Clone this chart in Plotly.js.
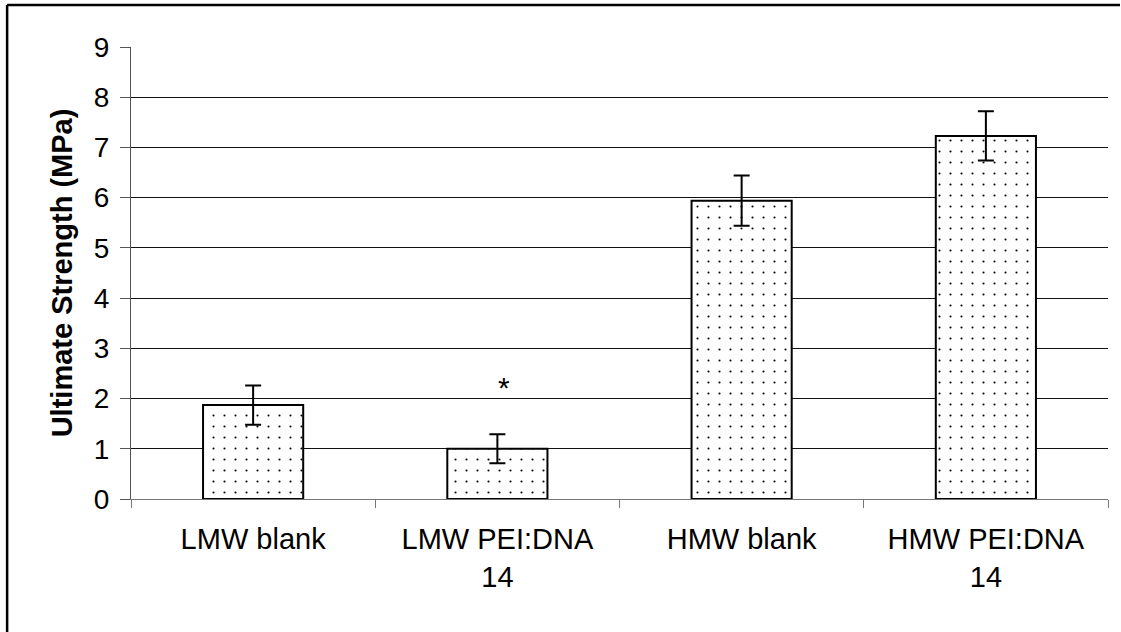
<!DOCTYPE html>
<html>
<head>
<meta charset="utf-8">
<script src="https://cdn.plot.ly/plotly-3.0.1.min.js"></script>
<style>
html,body{margin:0;padding:0;background:#fff;overflow:hidden;}
#chart{width:1121px;height:632px;overflow:hidden;}
</style>
</head>
<body>
<div id="chart"></div>
<script>
const categories = ["LMW blank", "LMW PEI:DNA<br>14", "HMW blank", "HMW PEI:DNA<br>14"];
const strength = [1.87, 1.0, 5.94, 7.23];
const errors = [0.39, 0.29, 0.50, 0.49];
const yTicks = [0, 1, 2, 3, 4, 5, 6, 7, 8, 9];
const markCategory = "LMW PEI:DNA<br>14";
const markY = 2.23;

const trace = {
  type: 'bar',
  x: categories,
  y: strength,
  marker: {
    color: '#fff',
    line: {color: '#000', width: 2},
    pattern: {shape: '.', size: 11, solidity: 0.03, fgcolor: '#000', bgcolor: '#fff', fillmode: 'replace'}
  },
  error_y: {type: 'data', array: errors, visible: true, color: '#000', thickness: 2, width: 8},
  hoverinfo: 'none'
};

const frameTop = 1 + 42/452;
const frameLeft = -124/978;
const frameRight = 990/978;
const frameBottom = -133/452;

const layout = {
  width: 1121, height: 632,
  margin: {l: 131, r: 13, t: 47, b: 133},
  paper_bgcolor: '#fff', plot_bgcolor: '#fff',
  font: {family: 'Liberation Sans, Arial, sans-serif', color: '#000', size: 28},
  showlegend: false,
  bargap: 0.59,
  xaxis: {
    type: 'category',
    tickson: 'boundaries',
    ticks: 'outside', ticklen: 8, tickcolor: '#777', tickwidth: 1,
    ticklabelstandoff: 14,
    showline: true, linecolor: '#777', linewidth: 1,
    showgrid: false,
    tickfont: {size: 29}
  },
  yaxis: {
    range: [0, 9],
    tickvals: yTicks,
    ticks: 'outside', ticklen: 10, tickcolor: '#555', tickwidth: 1,
    ticklabelstandoff: 5,
    showline: true, linecolor: '#555', linewidth: 1,
    showgrid: true, gridcolor: '#111', gridwidth: 1,
    zeroline: false,
    tickfont: {size: 28},
    title: {text: '<b>Ultimate Strength (MPa)</b>', font: {size: 29}, standoff: 12}
  },
  annotations: [{
    x: markCategory, y: markY, xref: 'x', yref: 'y', xshift: 7,
    text: '*', showarrow: false, font: {size: 30, color: '#000'}
  }],
  shapes: [
    {type: 'line', xref: 'paper', yref: 'paper', x0: frameLeft, x1: frameRight, y0: frameTop, y1: frameTop,
     line: {color: '#000', width: 2.5}, layer: 'below'},
    {type: 'line', xref: 'paper', yref: 'paper', x0: frameLeft, x1: frameLeft, y0: frameBottom, y1: frameTop,
     line: {color: '#000', width: 2.5}, layer: 'below'}
  ]
};

Plotly.newPlot('chart', [trace], layout, {staticPlot: true, displayModeBar: false});
</script>
</body>
</html>
